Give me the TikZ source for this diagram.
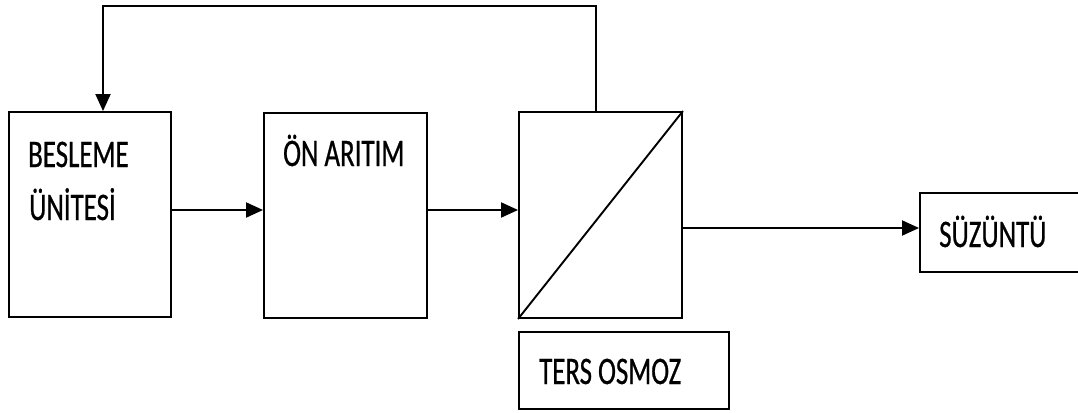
\documentclass[tikz,border=0pt]{standalone}
\usepackage{fontspec}
\newfontfamily\lblfont[FakeStretch=0.69,FakeBold=0.6]{Carlito}
\usetikzlibrary{arrows.meta}
\tikzset{
  box/.style={draw=black, line width=1.9pt, inner sep=0pt, fill=white},
  lbl/.style={anchor=base west, inner sep=0pt, font=\lblfont\fontsize{39}{39}\selectfont},
  arr/.style={draw=black, line width=1.9pt, -{Triangle[length=17pt,width=15pt]}}
}
\begin{document}
\begin{tikzpicture}[x=1pt,y=-1pt]
\useasboundingbox (0,0) rectangle (1078,412);
% boxes
\node[box, minimum width=162pt, minimum height=205pt] (bes) at (90,214.5) {};
\node[box, minimum width=163pt, minimum height=205pt] (on) at (345.5,215.5) {};
\node[box, minimum width=163pt, minimum height=206pt] (ro) at (600.5,215) {};
\node[box, minimum width=210pt, minimum height=77pt] (ters) at (624,370.5) {};
\node[box, minimum width=162pt, minimum height=79pt] (suz) at (1001,232.5) {};
\draw[line width=1.9pt] (ro.south west) -- (ro.north east);
% labels
\node[lbl] (t1) at (28,167) {BESLEME};
\node[lbl] (t2) at (29,220) {ÜNİTESİ};
\node[lbl] (t3) at (283,166) {ÖN ARITIM};
\node[lbl] (t4) at (539,384) {TERS OSMOZ};
\node[lbl] (t5) at (939,247) {SÜZÜNTÜ};
% connectors
\draw[arr] ([yshift=4.5pt]bes.east) -- ([yshift=5.5pt]on.west);
\draw[arr] ([yshift=5.5pt]on.east) -- ([yshift=5pt]ro.west);
\draw[arr] ([yshift=-13pt]ro.east) -- ([yshift=4.5pt]suz.west);
\draw[arr] ([xshift=-4.5pt]ro.north) -- ++(0,-105) -| ([xshift=13pt]bes.north);
\end{tikzpicture}
\end{document}
